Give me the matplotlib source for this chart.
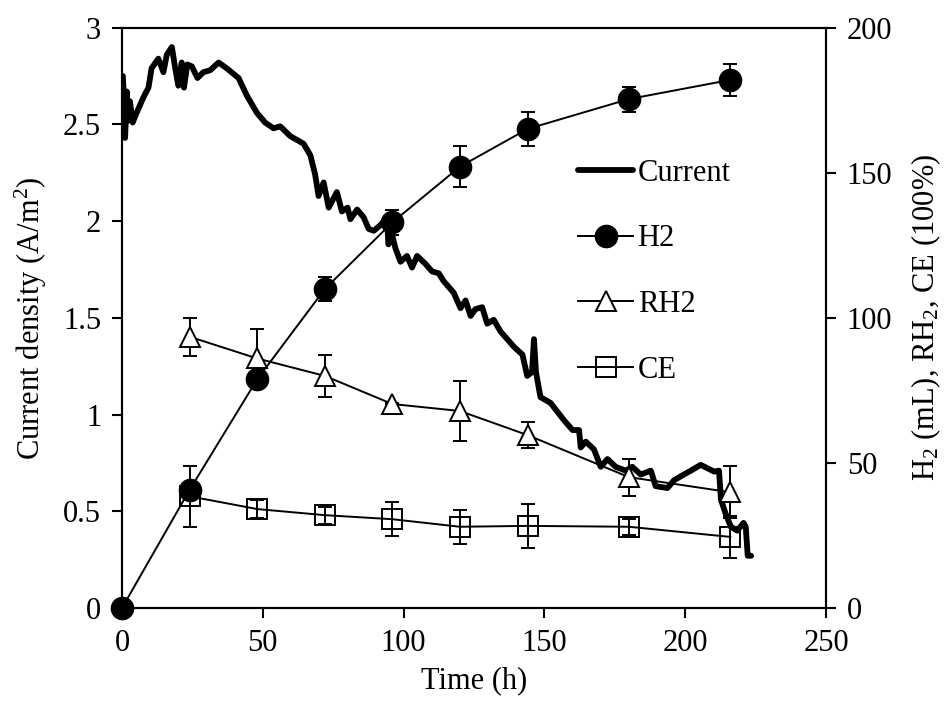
import matplotlib
matplotlib.use("Agg")
import matplotlib.pyplot as plt

plt.rcParams['font.family'] = ['Liberation Serif', 'DejaVu Serif']
plt.rcParams['mathtext.fontset'] = 'custom'
plt.rcParams['mathtext.rm'] = 'Liberation Serif'
plt.rcParams['mathtext.it'] = 'Liberation Serif:italic'

# Current density trace (left axis)
cur_t = [0.3, 0.8, 1.1, 1.7, 2.3, 2.8, 3.8, 5.2, 7.6, 9.4,
         10.5, 12.9, 14.7, 15.9, 17.7, 18.8, 20.0, 21.2, 22.0, 23.2,
         24.8, 26.8, 28.9, 31.3, 34.3, 37.2, 41.4, 44.3, 47.9, 50.8,
         53.8, 56.2, 59.7, 64.5, 66.9, 68.6, 69.8, 71.6, 73.4, 76.3,
         78.1, 80.1, 81.1, 83.5, 85.8, 87.6, 89.4, 91.8, 94.1, 94.6,
         95.9, 97.1, 98.9, 101.2, 103.0, 104.8, 107.7, 110.1, 112.5, 114.2,
         117.8, 120.2, 122.0, 123.8, 125.5, 127.9, 129.7, 132.0, 134.4, 139.2,
         142.2, 143.9, 145.6, 146.3, 147.0, 148.6, 152.2, 157.0, 160.0, 162.3,
         162.9, 164.7, 167.6, 170.0, 172.4, 175.3, 178.9, 181.2, 184.2, 187.8,
         189.5, 193.7, 196.0, 199.5, 202.0, 205.5, 210.3, 212.0, 212.7, 214.3,
         216.2, 218.5, 220.7, 221.5, 222.2, 223.4]
cur_v = [2.75, 2.60, 2.43, 2.67, 2.52, 2.62, 2.51, 2.56, 2.64, 2.69,
         2.79, 2.84, 2.77, 2.86, 2.90, 2.80, 2.70, 2.82, 2.69, 2.81,
         2.80, 2.74, 2.77, 2.78, 2.82, 2.79, 2.74, 2.65, 2.56, 2.51,
         2.48, 2.49, 2.44, 2.40, 2.34, 2.24, 2.13, 2.20, 2.07, 2.15,
         2.05, 2.07, 2.01, 2.06, 2.02, 1.96, 1.95, 1.98, 2.02, 1.88,
         1.93, 1.86, 1.79, 1.82, 1.76, 1.82, 1.78, 1.74, 1.73, 1.69,
         1.63, 1.55, 1.59, 1.51, 1.545, 1.555, 1.47, 1.49, 1.43, 1.35,
         1.31, 1.20, 1.22, 1.39, 1.22, 1.09, 1.06, 0.97, 0.92, 0.92,
         0.83, 0.86, 0.82, 0.73, 0.77, 0.73, 0.71, 0.73, 0.69, 0.71,
         0.63, 0.62, 0.66, 0.69, 0.71, 0.74, 0.705, 0.71, 0.56, 0.49,
         0.42, 0.40, 0.44, 0.42, 0.27, 0.27]

# Sampled series (right axis)
h2_t = [0, 24, 48, 72, 96, 120, 144, 180, 216]
h2 = [0, 40.7, 78.8, 109.9, 132.9, 152.1, 165.1, 175.4, 182.0]
h2_err = [0, 2.0, 2.0, 4.2, 4.2, 7.0, 5.7, 4.3, 5.6]

s_t = [24, 48, 72, 96, 120, 144, 180, 216]
rh2 = [93.5, 86.0, 80.0, 70.3, 67.9, 59.6, 45.1, 39.9]
rh2_err = [6.5, 10.0, 7.3, 0.5, 10.2, 4.5, 6.4, 9.0]
ce = [38.5, 34.1, 32.0, 30.6, 28.0, 28.3, 28.0, 24.5]
ce_err = [10.5, 3.0, 2.9, 5.9, 5.9, 7.5, 2.8, 7.3]

left_ticks = [0, 0.5, 1, 1.5, 2, 2.5, 3]
left_labels = ['0', '0.5', '1', '1.5', '2', '2.5', '3']
right_ticks = [0, 50, 100, 150, 200]
x_ticks = [0, 50, 100, 150, 200, 250]

FS = 22
fig = plt.figure(figsize=(9.49, 7.09), dpi=100)
ax = fig.add_axes([122/949, 1-608/709, (826-122)/949, (608-27.7)/709])
ax2 = ax.twinx()

line_cur, = ax.plot(cur_t, cur_v, color='black', lw=4.2, solid_joinstyle='round',
                    solid_capstyle='round', zorder=3)

ekw = dict(fmt='none', ecolor='black', elinewidth=1.4, capsize=5, capthick=1.4, zorder=4)
ax2.errorbar(h2_t, h2, yerr=h2_err, **ekw)
ax2.errorbar(s_t, rh2, yerr=rh2_err, **ekw)
ax2.errorbar(s_t, ce, yerr=ce_err, **ekw)

l_h2, = ax2.plot(h2_t, h2, color='black', lw=1.4, marker='o', ms=16,
                 mfc='black', mec='black', zorder=5, clip_on=False)
l_rh2, = ax2.plot(s_t, rh2, color='black', lw=1.4, marker='^', ms=15,
                  mfc='white', mec='black', mew=1.4, zorder=5, clip_on=False)
l_ce, = ax2.plot(s_t, ce, color='black', lw=1.4, marker='s', ms=14,
                 mfc='none', mec='black', mew=1.4, zorder=5, clip_on=False)

ax.set_xlim(0, 250)
ax.set_ylim(0, 3)
ax2.set_ylim(0, 200)
ax.set_xticks(x_ticks)
ax.set_yticks(left_ticks)
ax.set_yticklabels(left_labels)
ax2.set_yticks(right_ticks)

for a in (ax, ax2):
    for s in a.spines.values():
        s.set_linewidth(1.5)
    a.tick_params(labelsize=FS, width=1.5, length=7, direction='out', pad=8)
ax.tick_params(axis='y', right=False)
ax.tick_params(axis='x', top=False)
ax2.tick_params(axis='x', top=False, bottom=False)

ax.set_xlabel('Time (h)', fontsize=FS, labelpad=6)
ax.set_ylabel('Current density (A/m$^2$)', fontsize=FS, labelpad=10)
ax2.set_ylabel('H$_2$ (mL), RH$_2$, CE (100%)', fontsize=FS, labelpad=12)

leg = ax.legend([line_cur, l_h2, l_rh2, l_ce], ['Current', 'H2', 'RH2', 'CE'],
                loc='center left', bbox_to_anchor=(578/949, 1-271.7/709),
                bbox_transform=fig.transFigure, frameon=False, fontsize=FS,
                handlelength=1.8, handletextpad=0.15, labelspacing=1.2,
                borderpad=0, borderaxespad=0)
ax.set_zorder(ax2.get_zorder() - 1)
ax.patch.set_visible(False)
leg.remove()
ax2.add_artist(leg)

fig.savefig('out.png', dpi=100)
